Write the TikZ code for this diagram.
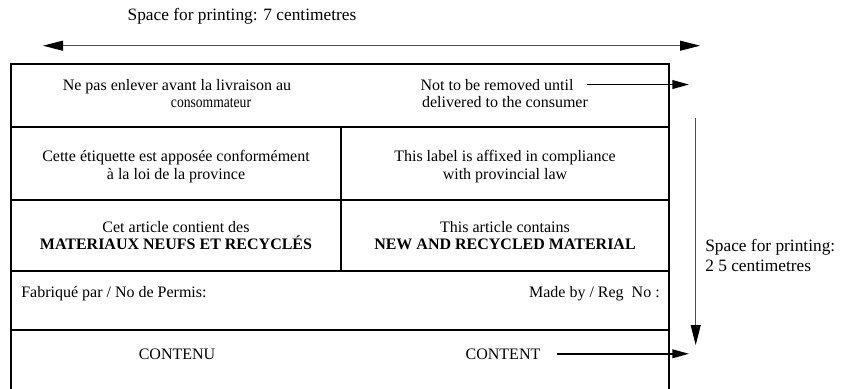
\documentclass[tikz,border=0pt]{standalone}
\usepackage{fontspec}
\usepackage{graphicx}
\setmainfont{Liberation Serif}
\usetikzlibrary{arrows.meta}

\tikzset{
  celltext/.style={inner sep=0pt,anchor=base,font=\fontsize{12}{13.5}\selectfont},
  sidenote/.style={inner sep=0pt,anchor=base,font=\fontsize{13}{15}\selectfont},
  labelframe/.style={line width=1.4pt},
  dimline/.style={line width=0.6pt,draw=black!70},
  bigtip/.tip={Triangle[length=15pt,width=7.5pt,color=black]},
  pointer/.style={line width=1.3pt,-{Triangle[length=12.5pt,width=6.5pt]}}
}

\begin{document}
\begin{tikzpicture}[x=0.75pt,y=-0.75pt]
  \useasboundingbox (0,0) rectangle (844,389);

  % label frame, open at the foot
  \draw[labelframe] (11,395) -- (11,64) -- (669,64) -- (669,395);
  \foreach \y in {127,200,271,330}
    \draw[labelframe] (11,\y) -- (669,\y);
  \draw[labelframe] (341,127) -- (341,271);

  % width of the printing space
  \node[sidenote] (widthnote) at (242,21) {Space for printing: 7 centimetres};
  \coordinate (wl) at (43,45.7);
  \coordinate (wr) at (700,45.7);
  \draw[dimline,bigtip-bigtip] (wl) -- (wr);

  % height of the printing space
  \coordinate (ht) at (695.7,118);
  \coordinate (hb) at (695.7,345);
  \draw[dimline,-bigtip] (ht) -- (hb);
  \node[sidenote,anchor=base west] (heightnote) at (705,251) {Space for printing:};
  \node[sidenote,anchor=base west] (heightval) at (705,271) {2 5 centimetres};

  % first row
  \node[celltext] (nepas) at (177,90) {Ne pas enlever avant la livraison au};
  \node[celltext] (conso) at (211,107) {\scalebox{.85}[1]{consommateur}};
  \node[celltext] (until) at (497,90) {Not to be removed until};
  \node[celltext] (deliv) at (505,107) {delivered to the consumer};
  \coordinate (untiltip) at (689,86);
  \draw[pointer,shorten <=10pt] (until.east) -- (until.east -| untiltip);

  % second row
  \node[celltext] (cette) at (176,161) {Cette étiquette est apposée conformément};
  \node[celltext] (loi) at (176,179) {à la loi de la province};
  \node[celltext] (label) at (505,161) {This label is affixed in compliance};
  \node[celltext] (provlaw) at (505,179) {with provincial law};

  % third row
  \node[celltext] (article) at (176,232) {Cet article contient des};
  \node[celltext] (materiaux) at (176,249) {\textbf{MATERIAUX NEUFS ET RECYCLÉS}};
  \node[celltext] (contains) at (505,232) {This article contains};
  \node[celltext] (newmat) at (505,249) {\textbf{NEW AND RECYCLED MATERIAL}};

  % fourth row
  \node[celltext,anchor=base west] (fabrique) at (21,297) {Fabriqué par / No de Permis:};
  \node[celltext,anchor=base east] (madeby) at (660,297) {Made by / Reg\ \ No :};

  % fifth row
  \node[celltext] (contenu) at (177,359) {CONTENU};
  \node[celltext] (content) at (503,359) {CONTENT};
  \coordinate (contip) at (689,355);
  \draw[pointer,shorten <=12pt] (content.east) -- (content.east -| contip);
\end{tikzpicture}
\end{document}
